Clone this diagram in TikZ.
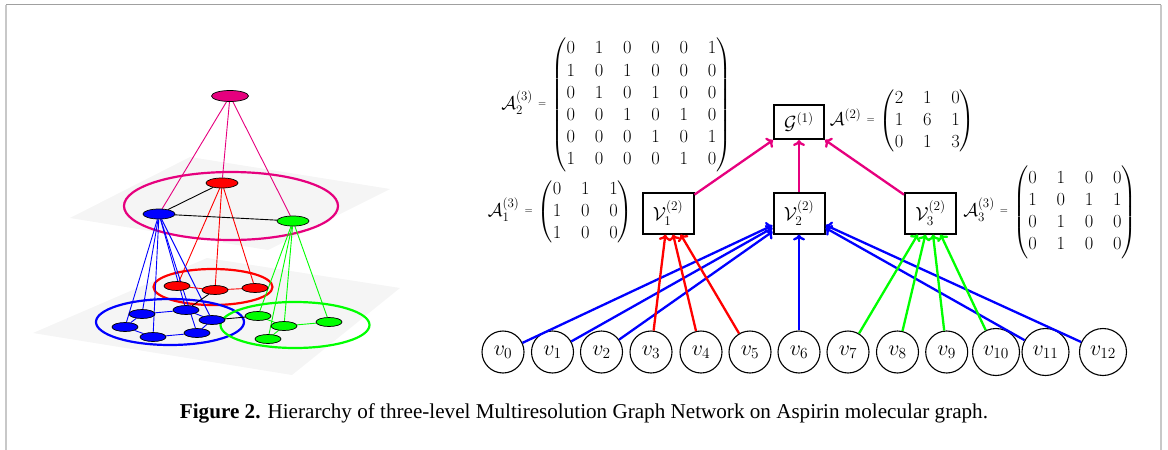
\RequirePackage{fix-cm}
\documentclass[tikz,border=0pt]{standalone}
\usepackage{amsmath}
\usepackage{graphicx}
\usepackage[no-math]{fontspec}
\newfontfamily\capfont{Liberation Serif}
\usetikzlibrary{shapes.geometric,arrows.meta}
\pgfdeclarelayer{background}
\pgfsetlayers{background,main}

\definecolor{mag}{RGB}{230,0,126}
\definecolor{pblue}{RGB}{0,0,255}
\definecolor{pred}{RGB}{255,0,0}
\definecolor{pgreen}{RGB}{0,255,0}
\definecolor{plane}{RGB}{245,245,245}

% small equals sign centred on the math axis
\newcommand{\smalleq}{\mathrel{\vcenter{\hbox{\fontsize{10.5}{12}\selectfont$=$}}}}

\tikzset{
  vnode/.style={circle, draw, line width=1.1pt, minimum size=42pt, inner sep=0pt,
                font=\fontsize{22}{26}\selectfont},
  vbig/.style={vnode, minimum size=47pt},
  gbox/.style={rectangle, draw, line width=2pt, minimum width=51pt, minimum height=41pt,
               inner sep=0pt, font=\fontsize{19}{23}\selectfont},
  mat/.style={inner sep=0pt, font=\fontsize{18.5}{22.2}\selectfont},
  up/.style={line width=2.3pt, -{To[length=6pt,width=12pt]}},
  atom/.style={ellipse, draw=black, line width=0.7pt, inner sep=0pt,
               minimum width=26pt, minimum height=9pt},
  ringline/.style={line width=2.2pt},
  link/.style={line width=0.9pt},
}

\begin{document}
\begin{tikzpicture}[x=1pt,y=-1pt]
\useasboundingbox (0,0) rectangle (1168,450);

% page frame
\draw[color={rgb,255:red,200;green,200;blue,200}, line width=1.6pt] (6,450) -- (6,4.5);
\draw[color={rgb,255:red,160;green,160;blue,160}, line width=1.4pt] (6,4.5) -- (1161,4.5);
\draw[color={rgb,255:red,200;green,200;blue,200}, line width=1.6pt] (1161,4.5) -- (1161,450);

% ---------------- left: three-level hierarchy in perspective ----------------
% top level
\node[atom, fill=mag, minimum width=37pt, minimum height=11pt] (top) at (230,96) {};
% second level
\node[atom, fill=pred, minimum width=32pt, minimum height=10pt] (r2) at (222,183) {};
\node[atom, fill=pblue, minimum width=32pt, minimum height=10pt] (b2) at (159,214) {};
\node[atom, fill=pgreen, minimum width=32pt, minimum height=10pt] (g2) at (293,221) {};
% third level: carboxyl group
\node[atom, fill=pred] (r31) at (177,286) {};
\node[atom, fill=pred] (r32) at (215,290) {};
\node[atom, fill=pred] (r33) at (255,288) {};
% third level: benzene ring
\node[atom, fill=pblue] (b31) at (142,314) {};
\node[atom, fill=pblue] (b32) at (186,310) {};
\node[atom, fill=pblue] (b33) at (212,320) {};
\node[atom, fill=pblue] (b34) at (197,333) {};
\node[atom, fill=pblue] (b35) at (153,337) {};
\node[atom, fill=pblue] (b36) at (125,327) {};
% third level: ester group
\node[atom, fill=pgreen] (g31) at (258,316) {};
\node[atom, fill=pgreen] (g32) at (284,326) {};
\node[atom, fill=pgreen] (g33) at (329,322) {};
\node[atom, fill=pgreen] (g34) at (268,339) {};

\begin{pgfonlayer}{background}
  % planes
  \fill[plane] (33,333) -- (207,258) -- (400,288) -- (292,375) -- cycle;
  \fill[plane] (70,218) -- (190,157) -- (390,189) -- (268,250) -- cycle;
  % cluster rings
  \draw[ringline, mag] (231,206) ellipse [x radius=107, y radius=34];
  \draw[ringline, pred] (213,287) ellipse [x radius=59.5, y radius=18];
  \draw[ringline, pblue] (170,322) ellipse [x radius=74, y radius=23];
  \draw[ringline, pgreen] (295,325) ellipse [x radius=74.5, y radius=23];
  % membership links
  \foreach \t in {r2,b2,g2} \draw[link, mag] (top) -- (\t);
  \foreach \t in {r31,r32,r33} \draw[link, pred] (r2) -- (\t);
  \foreach \t in {b31,b32,b33,b34,b35,b36} \draw[link, pblue] (b2) -- (\t);
  \foreach \t in {g31,g32,g33,g34} \draw[link, pgreen] (g2) -- (\t);
  % bonds
  \draw[link, black] (b2) -- (r2);
  \draw[link, black] (b2) -- (g2);
  \draw[link, black] (r32) -- (b32);
  \draw[link, black] (b33) -- (g31);
  \draw[link, pred] (r31) -- (r32) -- (r33);
  \draw[link, pblue] (b31) -- (b32) -- (b33) -- (b34) -- (b35) -- (b36) -- (b31);
  \draw[link, pgreen] (g31) -- (g32) -- (g33);
  \draw[link, pgreen] (g32) -- (g34);
\end{pgfonlayer}

% ---------------- right: graph hierarchy ----------------
\node[gbox, minimum width=50pt, minimum height=34pt] (G) at (799,122) {$\mathcal{G}^{(1)}$};
\node[gbox] (V1) at (668,213) {$\mathcal{V}_1^{(2)}$};
\node[gbox] (V2) at (799,213) {$\mathcal{V}_2^{(2)}$};
\node[gbox] (V3) at (930.5,213) {$\mathcal{V}_3^{(2)}$};

\node[vnode] (v0) at (503,352) {$v_0$};
\node[vnode] (v1) at (552.5,352) {$v_1$};
\node[vnode] (v2) at (601.5,352) {$v_2$};
\node[vnode] (v3) at (651,352) {$v_3$};
\node[vnode] (v4) at (701,352) {$v_4$};
\node[vnode] (v5) at (750,352) {$v_5$};
\node[vnode] (v6) at (799,352) {$v_6$};
\node[vnode] (v7) at (848,352) {$v_7$};
\node[vnode] (v8) at (897.5,352) {$v_8$};
\node[vnode] (v9) at (946.7,352) {$v_9$};
\node[vbig] (v10) at (996,352) {$v_{10}$};
\node[vbig] (v11) at (1045.5,352) {$v_{11}$};
\node[vbig] (v12) at (1103,352) {$v_{12}$};

\draw[up, mag] (V1) -- (G);
\draw[up, mag] (V2) -- (G);
\draw[up, mag] (V3) -- (G);
\foreach \s in {v0,v1,v2,v6,v11,v12} \draw[up, pblue] (\s) -- (V2);
\foreach \s in {v3,v4,v5} \draw[up, pred] (\s) -- (V1);
\foreach \s in {v7,v8,v9,v10} \draw[up, pgreen] (\s) -- (V3);

% adjacency matrices
\node[mat] (A2) at (616.5,105) {\setlength\arraycolsep{9.9pt}$\mathcal{A}_2^{(3)}\smalleq
  \begin{pmatrix}
  0&1&0&0&0&1\\ 1&0&1&0&0&0\\ 0&1&0&1&0&0\\
  0&0&1&0&1&0\\ 0&0&0&1&0&1\\ 1&0&0&0&1&0
  \end{pmatrix}$};
\node[mat] (A1) at (560.5,212) {\setlength\arraycolsep{9.9pt}$\mathcal{A}_1^{(3)}\smalleq
  \begin{pmatrix}
  0&1&1\\ 1&0&0\\ 1&0&0
  \end{pmatrix}$};
\node[mat] (A0) at (902.5,121) {\setlength\arraycolsep{9.9pt}$\mathcal{A}^{(2)}\smalleq
  \begin{pmatrix}
  2&1&0\\ 1&6&1\\ 0&1&3
  \end{pmatrix}$};
\node[mat] (A3) at (1050,212) {\setlength\arraycolsep{9.9pt}$\mathcal{A}_3^{(3)}\smalleq
  \begin{pmatrix}
  0&1&0&0\\ 1&0&1&1\\ 0&1&0&0\\ 0&1&0&0
  \end{pmatrix}$};

% caption
\node (cap) at (584,413) {\resizebox{808pt}{!}{\capfont\textbf{Figure 2.} Hierarchy of three-level Multiresolution Graph Network on Aspirin molecular graph.}};
\end{tikzpicture}
\end{document}
